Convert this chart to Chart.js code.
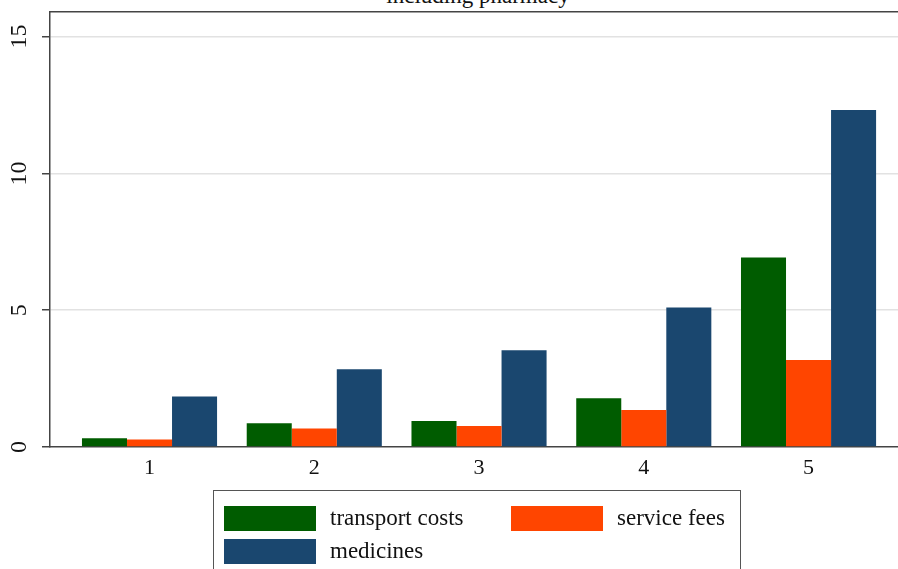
<!DOCTYPE html>
<html lang="en">
<head>
  <meta charset="UTF-8" />
  <title>including pharmacy</title>
  <script src="https://cdn.jsdelivr.net/npm/chart.js"></script>
  <style>
    body { margin: 0; background: #fff; font-family: 'Liberation Serif', 'DejaVu Serif', serif; }
    #wrap { position: relative; width: 898px; height: 569px; overflow: hidden; background: #fff; }
    #titulo {
      position: absolute; left: 0; width: 956px; top: -15px; text-align: center;
      font-size: 23px; line-height: 22px; color: #111;
    }
    canvas { position: absolute; left: 0; top: 0; }
    #legenda {
      position: absolute; left: 213px; top: 490px; width: 528px; height: 100px;
      border: 1.5px solid #555; box-sizing: border-box;
    }
    .item { position: absolute; display: flex; align-items: center; font-size: 23px; color: #111; }
    .item span.cx { width: 92px; height: 25px; margin-right: 14px; display: inline-block; }
  </style>
</head>
<body>
  <div id="wrap">
    <div id="titulo">including pharmacy</div>
    <canvas id="grafico" width="898" height="569"></canvas>
    <div id="legenda"></div>
  </div>

  <script>
    const categorias = [1, 2, 3, 4, 5];
    const transporte = [0.32, 0.87, 0.95, 1.78, 6.93];
    const taxas = [0.27, 0.68, 0.77, 1.35, 3.18];
    const remedios = [1.85, 2.84, 3.54, 5.10, 12.32];
    const rotulosY = [0, 5, 10, 15];

    const nomes = ["transport costs", "service fees", "medicines"];
    const cores = ["#005c00", "#ff4500", "#1a476f"];
    const series = [transporte, taxas, remedios];

    const fonte = { family: "'Liberation Serif', 'DejaVu Serif', serif", size: 22 };

    const grafico = new Chart(document.getElementById("grafico"), {
      type: "bar",
      data: {
        datasets: series.map((s, i) => ({
          label: nomes[i],
          backgroundColor: cores[i],
          data: categorias.map((c, j) => ({ x: c, y: s[j] })),
          categoryPercentage: 0.82,
          barPercentage: 1.0
        }))
      },
      options: {
        responsive: false,
        animation: false,
        layout: { padding: { top: 12, left: 0, right: 0, bottom: 0 } },
        plugins: { legend: { display: false }, tooltip: { enabled: false } },
        scales: {
          x: {
            type: "linear", offset: false,
            min: 0.396, max: 5.543,
            grid: { display: false, drawTicks: false, offset: false },
            border: { color: "#444", width: 1.5 },
            ticks: {
              stepSize: 1, includeBounds: false, padding: 8,
              color: "#111", font: fonte,
              callback: v => categorias.includes(v) ? String(v) : ""
            },
            afterFit: s => { s.height = 122; s.paddingLeft = 0; s.paddingRight = 0; }
          },
          topo: {
            type: "linear", position: "top", axis: "x", offset: false,
            min: 0.396, max: 5.543,
            grid: { display: false, drawTicks: false, offset: false },
            border: { color: "#444", width: 1.5 },
            ticks: { display: false },
            afterFit: s => { s.height = 0; s.paddingLeft = 0; s.paddingRight = 0; }
          },
          y: {
            min: 0, max: 15.9,
            grid: {
              color: ctx => ctx.tick && ctx.tick.value === 0 ? "rgba(0,0,0,0)" : "#e2e2e2",
              lineWidth: 1.5, tickLength: 8, tickColor: "#444"
            },
            border: { color: "#444", width: 1.5 },
            ticks: {
              stepSize: 5, includeBounds: false, padding: 10,
              minRotation: 90, maxRotation: 90, crossAlign: "center",
              color: "#111", font: { family: fonte.family, size: 24 },
              callback: v => rotulosY.includes(v) ? String(v) : ""
            },
            afterFit: s => { s.width = 50; s.paddingTop = 0; s.paddingBottom = 0; }
          }
        }
      }
    });

    // legenda em html, montada a partir dos datasets
    const legenda = document.getElementById("legenda");
    const posicoes = [[10, 14], [297, 14], [10, 47]];
    grafico.data.datasets.forEach((ds, i) => {
      const el = document.createElement("div");
      el.className = "item";
      el.style.left = posicoes[i][0] + "px";
      el.style.top = posicoes[i][1] + "px";
      el.innerHTML = `<span class="cx" style="background:${ds.backgroundColor}"></span>${ds.label}`;
      legenda.appendChild(el);
    });
  </script>
</body>
</html>
